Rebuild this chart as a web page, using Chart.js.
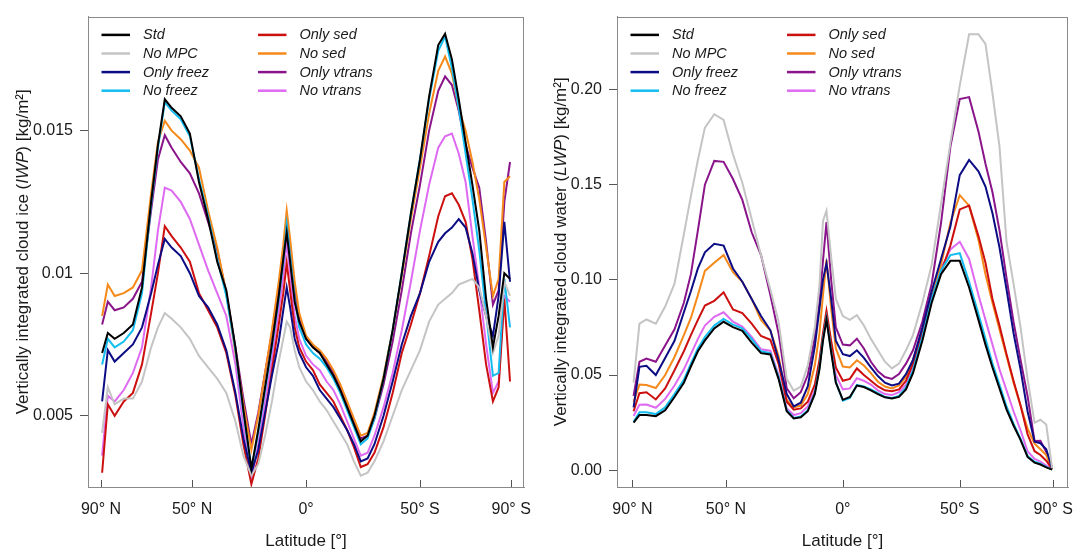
<!DOCTYPE html>
<html>
<head>
<meta charset="utf-8">
<script src="https://cdn.jsdelivr.net/npm/chart.js@4/dist/chart.umd.min.js"></script>
<style>
  html, body { margin: 0; padding: 0; background: #fff; }
  #wrap { display: flex; width: 1088px; height: 553px; }
  canvas { display: block; }
</style>
</head>
<body>
<div id="wrap">
  <canvas id="iwpChart" width="544" height="553"></canvas>
  <canvas id="lwpChart" width="544" height="553"></canvas>
</div>
<script>
// latitude, north negative, south positive
var lat = [-89.5, -87, -84, -80, -76, -72, -68, -65, -62, -59,
  -55, -51, -47, -43, -39, -35, -31, -27.5, -24, -21,
  -18, -15, -12, -10, -8.5, -7, -5, -3, 0, 3,
  6, 9, 12, 15, 18, 21, 24, 27, 30, 34,
  38, 42, 46, 50, 54, 58, 61, 64, 67, 70,
  73, 76, 79, 82, 84.5, 87, 89.5];

var latTicks = [-90, -50, 0, 50, 90];
var latTickLabels = ['90° N', '50° N', '0°', '50° S', '90° S'];

var runNames = ['Std', 'No MPC', 'Only freez', 'No freez', 'Only sed', 'No sed', 'Only vtrans', 'No vtrans'];
var runColors = ['#000000', '#c4c4c4', '#0c0c84', '#14bdf0', '#cc1010', '#f5891a', '#8a148a', '#df6af2'];

// IWP [kg/m2]
var iwpStd = [0.0072, 0.0079, 0.0077, 0.0079, 0.0082, 0.0095, 0.0125, 0.0145, 0.0161, 0.0158,
  0.0155, 0.0149, 0.0132, 0.0119, 0.0104, 0.0094, 0.0074, 0.0052, 0.00315, 0.0045,
  0.0060, 0.0075, 0.0092, 0.0105, 0.01143, 0.0104, 0.0090, 0.0083, 0.0077, 0.0074,
  0.0072, 0.0068, 0.0064, 0.0059, 0.0053, 0.0047, 0.0041, 0.0043, 0.0050, 0.0063,
  0.0080, 0.0100, 0.0121, 0.0140, 0.0162, 0.0180, 0.0184, 0.0175, 0.0161, 0.0146,
  0.0131, 0.0115, 0.0091, 0.0074, 0.0085, 0.0100, 0.0098];
var iwpNoMPC = [0.0044, 0.0060, 0.0054, 0.0056, 0.0056, 0.0062, 0.0074, 0.0081, 0.0086, 0.0084,
  0.0081, 0.0077, 0.0071, 0.0067, 0.0063, 0.0058, 0.0048, 0.0036, 0.0029, 0.0033,
  0.0043, 0.0055, 0.0069, 0.0077, 0.0083, 0.0081, 0.0073, 0.0067, 0.0062, 0.0059,
  0.0055, 0.0052, 0.0048, 0.0044, 0.0040, 0.0034, 0.0029, 0.0030, 0.0034, 0.0041,
  0.0050, 0.0059, 0.0066, 0.0073, 0.0083, 0.0089, 0.0091, 0.0093, 0.0096, 0.0097,
  0.0098, 0.0095, 0.0085, 0.0072, 0.0078, 0.0097, 0.0092];
var iwpOnlyFreez = [0.0055, 0.0073, 0.0069, 0.0072, 0.0075, 0.0081, 0.0093, 0.0103, 0.0112, 0.0109,
  0.0106, 0.0100, 0.0092, 0.0088, 0.0082, 0.0073, 0.0058, 0.0042, 0.0030, 0.0038,
  0.0051, 0.0064, 0.0076, 0.0087, 0.0095, 0.0088, 0.0077, 0.0072, 0.0067, 0.0064,
  0.0059, 0.0056, 0.0053, 0.0049, 0.0045, 0.0040, 0.0034, 0.0035, 0.0040, 0.0050,
  0.0062, 0.0075, 0.0085, 0.0093, 0.0104, 0.0111, 0.0114, 0.0116, 0.0119, 0.0116,
  0.0107, 0.0094, 0.0085, 0.0078, 0.0092, 0.0118, 0.0097];
var iwpNoFreez = [0.0068, 0.0077, 0.0074, 0.0076, 0.0080, 0.0093, 0.0124, 0.0144, 0.0160, 0.0157,
  0.0154, 0.0148, 0.0133, 0.0120, 0.0105, 0.0092, 0.0073, 0.0051, 0.0031, 0.0044,
  0.0059, 0.0074, 0.0091, 0.0104, 0.0117, 0.0106, 0.0091, 0.0081, 0.0075, 0.0072,
  0.0070, 0.0067, 0.0063, 0.0058, 0.0052, 0.0046, 0.0040, 0.0042, 0.0049, 0.0063,
  0.0080, 0.0100, 0.0121, 0.0140, 0.0161, 0.0178, 0.0183, 0.0172, 0.0158, 0.0142,
  0.0126, 0.0108, 0.0086, 0.0064, 0.0065, 0.0098, 0.0081];
var iwpOnlySed = [0.0030, 0.0054, 0.0050, 0.0055, 0.0058, 0.0068, 0.0086, 0.0100, 0.01165, 0.0113,
  0.0109, 0.0104, 0.0093, 0.0087, 0.0081, 0.0072, 0.0057, 0.0040, 0.0026, 0.0035,
  0.0050, 0.0066, 0.0082, 0.0093, 0.01036, 0.0094, 0.0081, 0.0074, 0.0069, 0.0066,
  0.0061, 0.0058, 0.0055, 0.0050, 0.0045, 0.0039, 0.0032, 0.0033, 0.0037, 0.0046,
  0.0058, 0.0072, 0.0082, 0.0093, 0.0106, 0.0120, 0.0127, 0.0128, 0.0124, 0.0118,
  0.0105, 0.0087, 0.0068, 0.0055, 0.0060, 0.0091, 0.0062];
var iwpNoSed = [0.0085, 0.0096, 0.0092, 0.0093, 0.0095, 0.0101, 0.0128, 0.0146, 0.01535, 0.0150,
  0.0147, 0.0143, 0.0137, 0.0122, 0.0109, 0.0093, 0.0072, 0.0054, 0.0038, 0.0050,
  0.0065, 0.0080, 0.0097, 0.0110, 0.0122, 0.0112, 0.0097, 0.0086, 0.0078, 0.0075,
  0.0073, 0.0070, 0.0066, 0.0061, 0.0055, 0.0049, 0.0043, 0.0044, 0.0051, 0.0064,
  0.0080, 0.0099, 0.0119, 0.0137, 0.0156, 0.0171, 0.0176, 0.0170, 0.0158, 0.0150,
  0.0139, 0.0126, 0.0109, 0.0092, 0.0098, 0.0132, 0.0134];
var iwpOnlyVtrans = [0.0082, 0.0090, 0.0087, 0.0088, 0.0091, 0.0097, 0.0122, 0.0140, 0.01484, 0.0144,
  0.0139, 0.0135, 0.0128, 0.0118, 0.0108, 0.0093, 0.0074, 0.0056, 0.0040, 0.0051,
  0.0065, 0.0079, 0.0095, 0.0107, 0.0119, 0.0109, 0.0094, 0.0084, 0.0077, 0.0074,
  0.0072, 0.0069, 0.0065, 0.0060, 0.0054, 0.0048, 0.0042, 0.0043, 0.0049, 0.0061,
  0.0076, 0.0094, 0.0114, 0.0131, 0.0150, 0.0164, 0.0169, 0.0166, 0.0157, 0.0145,
  0.0137, 0.0130, 0.0111, 0.0089, 0.0094, 0.0125, 0.0139];
var iwpNoVtrans = [0.0036, 0.0057, 0.0055, 0.0059, 0.0065, 0.0074, 0.0095, 0.0115, 0.0130, 0.0129,
  0.0125, 0.0119, 0.0110, 0.0101, 0.0093, 0.0085, 0.0068, 0.0046, 0.0028, 0.0040,
  0.0055, 0.0070, 0.0087, 0.0099, 0.0111, 0.0100, 0.0085, 0.0077, 0.0071, 0.0068,
  0.0066, 0.0062, 0.0059, 0.0054, 0.0048, 0.0042, 0.0036, 0.0037, 0.0043, 0.0053,
  0.0065, 0.0080, 0.0097, 0.0115, 0.0131, 0.0144, 0.0148, 0.0149, 0.0142, 0.0132,
  0.0113, 0.0095, 0.0075, 0.0058, 0.0062, 0.0092, 0.0090];

// LWP [kg/m2]
var lwpStd = [0.0250, 0.0290, 0.0290, 0.0284, 0.0315, 0.0385, 0.0460, 0.0545, 0.0625, 0.0682,
  0.0745, 0.0780, 0.0752, 0.0732, 0.0670, 0.0615, 0.0608, 0.0480, 0.0310, 0.0272,
  0.0278, 0.0310, 0.0400, 0.0530, 0.0680, 0.0790, 0.0620, 0.0460, 0.0370, 0.0385,
  0.0445, 0.0437, 0.0420, 0.0400, 0.0383, 0.0377, 0.0385, 0.0425, 0.0510, 0.0680,
  0.0880, 0.1030, 0.1100, 0.1100, 0.0960, 0.0790, 0.0660, 0.0540, 0.0430, 0.0320,
  0.0235, 0.0160, 0.0070, 0.0040, 0.0030, 0.0015, 0.0003];
var lwpNoMPC = [0.0460, 0.0770, 0.0792, 0.0770, 0.0860, 0.0980, 0.1240, 0.1440, 0.1630, 0.1800,
  0.1870, 0.1840, 0.1660, 0.1510, 0.1320, 0.1130, 0.0950, 0.0780, 0.0480, 0.0418,
  0.0440, 0.0550, 0.0750, 0.0970, 0.1310, 0.1364, 0.1120, 0.0900, 0.0810, 0.0790,
  0.0815, 0.0760, 0.0690, 0.0630, 0.0570, 0.0535, 0.0560, 0.0630, 0.0710, 0.0880,
  0.1080, 0.1400, 0.1720, 0.2020, 0.2290, 0.2290, 0.2240, 0.1980, 0.1700, 0.1200,
  0.0980, 0.0750, 0.0480, 0.0250, 0.0265, 0.0240, 0.0010];
var lwpOnlyFreez = [0.0330, 0.0543, 0.0549, 0.0500, 0.0590, 0.0680, 0.0830, 0.0940, 0.1060, 0.1145,
  0.1190, 0.1180, 0.1060, 0.0990, 0.0900, 0.0810, 0.0735, 0.0580, 0.0400, 0.0335,
  0.0355, 0.0440, 0.0650, 0.0850, 0.1000, 0.1088, 0.0900, 0.0680, 0.0610, 0.0600,
  0.0630, 0.0590, 0.0540, 0.0495, 0.0460, 0.0445, 0.0455, 0.0505, 0.0580, 0.0750,
  0.0940, 0.1110, 0.1280, 0.1550, 0.1630, 0.1570, 0.1490, 0.1350, 0.1170, 0.0950,
  0.0720, 0.0530, 0.0310, 0.0150, 0.0142, 0.0110, 0.0010];
var lwpNoFreez = [0.0255, 0.0305, 0.0305, 0.0295, 0.0330, 0.0400, 0.0475, 0.0560, 0.0640, 0.0700,
  0.0760, 0.0795, 0.0765, 0.0745, 0.0690, 0.0625, 0.0615, 0.0490, 0.0315, 0.0275,
  0.0282, 0.0315, 0.0405, 0.0540, 0.0690, 0.0800, 0.0630, 0.0465, 0.0365, 0.0380,
  0.0448, 0.0440, 0.0425, 0.0405, 0.0385, 0.0380, 0.0390, 0.0435, 0.0525, 0.0700,
  0.0900, 0.1050, 0.1130, 0.1140, 0.0990, 0.0820, 0.0690, 0.0560, 0.0450, 0.0335,
  0.0245, 0.0165, 0.0075, 0.0045, 0.0035, 0.0018, 0.0004];
var lwpOnlySed = [0.0310, 0.0405, 0.0410, 0.0372, 0.0430, 0.0525, 0.0625, 0.0710, 0.0790, 0.0865,
  0.0890, 0.0935, 0.0845, 0.0825, 0.0770, 0.0705, 0.0685, 0.0560, 0.0360, 0.0318,
  0.0325, 0.0360, 0.0450, 0.0580, 0.0720, 0.0838, 0.0680, 0.0540, 0.0470, 0.0480,
  0.0535, 0.0500, 0.0470, 0.0440, 0.0420, 0.0415, 0.0425, 0.0470, 0.0560, 0.0720,
  0.0900, 0.1040, 0.1180, 0.1370, 0.1390, 0.1230, 0.1090, 0.0900, 0.0760, 0.0610,
  0.0470, 0.0340, 0.0190, 0.0100, 0.0080, 0.0050, 0.0005];
var lwpNoSed = [0.0360, 0.0450, 0.0448, 0.0432, 0.0500, 0.0595, 0.0710, 0.0800, 0.0920, 0.1047,
  0.1090, 0.1130, 0.1040, 0.0990, 0.0900, 0.0790, 0.0734, 0.0600, 0.0370, 0.0330,
  0.0340, 0.0400, 0.0550, 0.0720, 0.0920, 0.1105, 0.0850, 0.0640, 0.0545, 0.0540,
  0.0578, 0.0550, 0.0510, 0.0465, 0.0440, 0.0430, 0.0445, 0.0490, 0.0580, 0.0730,
  0.0920, 0.1080, 0.1300, 0.1445, 0.1390, 0.1210, 0.1030, 0.0880, 0.0740, 0.0600,
  0.0460, 0.0340, 0.0220, 0.0140, 0.0110, 0.0080, 0.0005];
var lwpOnlyVtrans = [0.0390, 0.0570, 0.0587, 0.0570, 0.0655, 0.0740, 0.0880, 0.1030, 0.1260, 0.1500,
  0.1625, 0.1620, 0.1530, 0.1420, 0.1250, 0.1130, 0.0920, 0.0720, 0.0430, 0.0378,
  0.0410, 0.0500, 0.0700, 0.0880, 0.1100, 0.1304, 0.1000, 0.0750, 0.0660, 0.0656,
  0.0691, 0.0640, 0.0570, 0.0520, 0.0490, 0.0480, 0.0505, 0.0560, 0.0630, 0.0780,
  0.0980, 0.1300, 0.1700, 0.1950, 0.1960, 0.1780, 0.1610, 0.1460, 0.1260, 0.1010,
  0.0780, 0.0580, 0.0390, 0.0153, 0.0155, 0.0095, 0.0010];
var lwpNoVtrans = [0.0285, 0.0344, 0.0345, 0.0328, 0.0375, 0.0445, 0.0530, 0.0610, 0.0690, 0.0760,
  0.0806, 0.0830, 0.0780, 0.0755, 0.0700, 0.0635, 0.0628, 0.0500, 0.0325, 0.0290,
  0.0300, 0.0335, 0.0420, 0.0550, 0.0700, 0.0816, 0.0650, 0.0500, 0.0425, 0.0430,
  0.0483, 0.0470, 0.0450, 0.0420, 0.0400, 0.0395, 0.0410, 0.0450, 0.0550, 0.0710,
  0.0900, 0.1060, 0.1160, 0.1200, 0.1110, 0.0920, 0.0790, 0.0660, 0.0530, 0.0420,
  0.0310, 0.0210, 0.0100, 0.0060, 0.0045, 0.0025, 0.0004];

var iwpTicks = [0.005, 0.01, 0.015];
var iwpTickLabels = ['0.005', '0.01', '0.015'];
var lwpTicks = [0, 0.05, 0.1, 0.15, 0.2];
var lwpTickLabels = ['0.00', '0.05', '0.10', '0.15', '0.20'];

var FONT = '"Liberation Sans", Arial, Helvetica, sans-serif';
var legendCols = [[0, 1, 2, 3], [4, 5, 6, 7]];

// frame, inward x ticks, axis titles (with italic symbol) and two-column legend
var framePlugin = {
  id: 'frame',
  afterDraw: function (chart, args, opts) {
    var ctx = chart.ctx, a = chart.chartArea;
    var xs = chart.scales.x;
    ctx.save();
    ctx.strokeStyle = '#8a8a8a';
    ctx.lineWidth = 1;
    ctx.strokeRect(Math.round(a.left) + 0.5, Math.round(a.top) + 0.5,
      Math.round(a.right - a.left) - 1, Math.round(a.bottom - a.top));

    ctx.strokeStyle = '#555';
    latTicks.forEach(function (v) {
      var px = Math.round(xs.getPixelForValue(v)) + 0.5;
      ctx.beginPath();
      ctx.moveTo(px, a.bottom);
      ctx.lineTo(px, a.bottom - 7);
      ctx.stroke();
    });

    // y title
    ctx.fillStyle = '#1a1a1a';
    ctx.textBaseline = 'middle';
    var parts = opts.yTitle;
    var widths = parts.map(function (p) {
      ctx.font = (p.it ? 'italic ' : '') + '17px ' + FONT;
      return ctx.measureText(p.t).width;
    });
    var total = widths.reduce(function (s, w) { return s + w; }, 0);
    ctx.save();
    ctx.translate(opts.yTitleX, (a.top + a.bottom) / 2);
    ctx.rotate(-Math.PI / 2);
    var px = -total / 2;
    ctx.textAlign = 'left';
    parts.forEach(function (p, i) {
      ctx.font = (p.it ? 'italic ' : '') + '17px ' + FONT;
      ctx.fillText(p.t, px, 0);
      px += widths[i];
    });
    ctx.restore();

    // x title
    ctx.font = '17px ' + FONT;
    ctx.textAlign = 'center';
    ctx.fillText('Latitude [°]', (a.left + a.right) / 2, 541);

    // legend
    ctx.font = 'italic 14.5px ' + FONT;
    ctx.textAlign = 'left';
    legendCols.forEach(function (col, c) {
      col.forEach(function (di, r) {
        var ds = chart.data.datasets[di];
        var x0 = a.left + 13.5 + c * 156.5;
        var y = a.top + 18.3 + r * 18.6;
        ctx.strokeStyle = ds.borderColor;
        ctx.lineWidth = 2.5;
        ctx.beginPath();
        ctx.moveTo(x0, y);
        ctx.lineTo(x0 + 28.5, y);
        ctx.stroke();
        ctx.fillStyle = '#1a1a1a';
        ctx.fillText(ds.label, x0 + 41.5, y + 0.5);
      });
    });
    ctx.restore();
  }
};

function makeDatasets(seriesList) {
  return seriesList.map(function (vals, k) {
    return {
      label: runNames[k],
      data: lat.map(function (x, i) { return { x: x, y: vals[i] }; }),
      borderColor: runColors[k],
      backgroundColor: runColors[k],
      borderWidth: 2,
      pointRadius: 0,
      tension: 0,
      fill: false,
      order: k
    };
  });
}

function makeChart(id, seriesList, cfg) {
  return new Chart(document.getElementById(id), {
    type: 'line',
    data: { datasets: makeDatasets(seriesList) },
    options: {
      responsive: false,
      devicePixelRatio: 1,
      animation: false,
      layout: { padding: { left: 0, right: cfg.padRight, top: 10, bottom: 0 } },
      plugins: {
        legend: { display: false },
        tooltip: { enabled: false },
        frame: { yTitle: cfg.yTitle, yTitleX: cfg.yTitleX }
      },
      scales: {
        x: {
          type: 'linear',
          min: cfg.xMin,
          max: cfg.xMax,
          afterBuildTicks: function (s) { s.ticks = latTicks.map(function (v) { return { value: v }; }); },
          afterFit: function (s) { s.height = 66; },
          ticks: {
            autoSkip: false, maxRotation: 0, padding: 13, color: '#1a1a1a',
            font: { family: FONT, size: 16 },
            callback: function (v, i) { return latTickLabels[i]; }
          },
          grid: { drawOnChartArea: false, drawTicks: false, color: '#555' },
          border: { display: true, color: '#8a8a8a' }
        },
        y: {
          type: 'linear',
          min: cfg.yMin,
          max: cfg.yMax,
          afterBuildTicks: function (s) { s.ticks = cfg.yTicks.map(function (v) { return { value: v }; }); },
          afterFit: function (s) { s.width = cfg.yWidth; },
          ticks: {
            padding: 7, color: '#1a1a1a',
            font: { family: FONT, size: 16 },
            callback: function (v, i) { return cfg.yTickLabels[i]; }
          },
          grid: { drawOnChartArea: false, drawTicks: true, tickLength: 8, color: '#555' },
          border: { display: true, color: '#8a8a8a' }
        }
      }
    },
    plugins: [framePlugin]
  });
}

makeChart('iwpChart',
  [iwpStd, iwpNoMPC, iwpOnlyFreez, iwpNoFreez, iwpOnlySed, iwpNoSed, iwpOnlyVtrans, iwpNoVtrans],
  {
    xMin: -95.7, xMax: 95.7, yMin: 0.0025, yMax: 0.0190,
    yTicks: iwpTicks, yTickLabels: iwpTickLabels,
    yWidth: 88, padRight: 6, yTitleX: 23,
    yTitle: [{ t: 'Vertically integrated cloud ice (', it: false }, { t: 'IWP', it: true }, { t: ') [kg/m²]', it: false }]
  });

makeChart('lwpChart',
  [lwpStd, lwpNoMPC, lwpOnlyFreez, lwpNoFreez, lwpOnlySed, lwpNoSed, lwpOnlyVtrans, lwpNoVtrans],
  {
    xMin: -96.6, xMax: 96.3, yMin: -0.0088, yMax: 0.2383,
    yTicks: lwpTicks, yTickLabels: lwpTickLabels,
    yWidth: 73, padRight: 20, yTitleX: 17,
    yTitle: [{ t: 'Vertically integrated cloud water (', it: false }, { t: 'LWP', it: true }, { t: ') [kg/m²]', it: false }]
  });
</script>
</body>
</html>
